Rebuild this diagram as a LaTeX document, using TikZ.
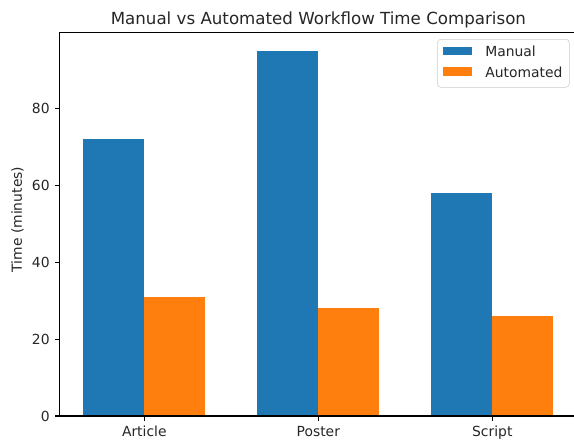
\documentclass[tikz,border=0pt]{standalone}
\usepackage{fontspec}
\setmainfont{DejaVu Sans}
\usepackage{xcolor}
\usepackage{tikz}
\definecolor{manual}{HTML}{1F77B4}
\definecolor{autom}{HTML}{FF7F0E}
\definecolor{legframe}{HTML}{CCCCCC}
\newcommand{\barpair}[3]{\fill[manual] (#1-0.35,0) rectangle (#1,#2); \fill[autom] (#1,0) rectangle (#1+0.35,#3);}
\tikzset{ticklab/.style={inner sep=0pt,font=\fontsize{10}{12}\selectfont,text=black!85}}

\begin{document}
\begin{tikzpicture}[x=0.72pt,y=0.72pt]
\useasboundingbox (0,0) rectangle (574,444);
\node[anchor=base,inner sep=0pt,font=\fontsize{12}{14}\selectfont,text=black!85] (title) at (318.4,419.3) {Manual vs Automated Workflow Time Comparison};
\node[ticklab,rotate=90] (ylab) at (17.5,224.5) {Time (minutes)};
\begin{scope}[xshift=103.9pt,yshift=20.16pt,x=125.28pt,y=2.769pt]
\barpair{0}{72}{31} \barpair{1}{95}{28} \barpair{2}{58}{26}
\draw[line width=0.8pt] (2.47,0) -- (-0.485,0) -- (-0.485,99.75) -- (2.47,99.75);
\foreach \v in {0,20,...,80} {\draw[line width=0.8pt] (-0.485,\v) -- ++(-3.5pt,0) node[ticklab,anchor=east,xshift=-3.5pt] (yt\v) {\v};}
\foreach \g/\lab in {0/Article,1/Poster,2/Script} {\draw[line width=0.8pt] (\g,0) -- ++(0,-3.5pt) node[ticklab,anchor=north,yshift=-3.5pt] (xt\g) {\lab};}
\end{scope}
\draw[legframe,fill=white,fill opacity=0.8,rounded corners=2.5pt] (437.3,404.7) rectangle (569.3,356.7);
\fill[manual] (442.7,397.3) rectangle (471.7,389); \fill[autom] (442.7,376.7) rectangle (471.7,368);
\node[ticklab,anchor=west] (legman) at (485,393) {Manual}; \node[ticklab,anchor=west] (legauto) at (485,372) {Automated};
\end{tikzpicture}
\end{document}
